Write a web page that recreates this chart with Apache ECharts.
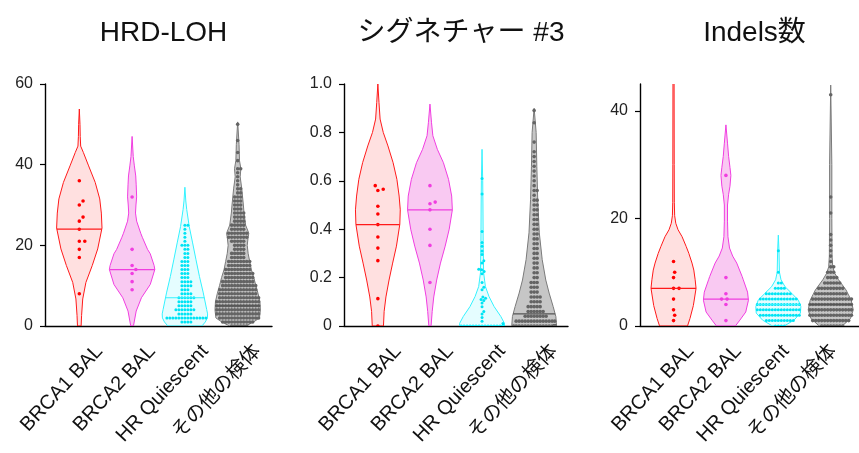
<!DOCTYPE html>
<html>
<head>
<meta charset="utf-8">
<script src="https://cdn.jsdelivr.net/npm/echarts@6/dist/echarts.min.js"></script>
<style>
  html, body { margin: 0; padding: 0; background: #fff; }
  #chart { width: 859px; height: 453px; }
</style>
</head>
<body>
<div id="chart"></div>
<script>
// ---- data ----------------------------------------------------------------
const categories = ['BRCA1 BAL', 'BRCA2 BAL', 'HR Quiescent', 'その他の検体'];
const panelTitles = ['HRD-LOH', 'シグネチャー #3', 'Indels数'];

const hrdTicks = [0, 20, 40, 60];
const sigTicks = [0, 0.2, 0.4, 0.6, 0.8, 1.0];
const indelTicks = [0, 20, 40];

// individual samples; [value, n] means n samples sharing that value
const hrdBrca1 = [36, 31, 30, 27, 26, 24, 21, 21, 19, 17, 8];
const hrdBrca2 = [32, 19, 15, 14, 13, 11, 9];
const hrdQuiescent = [[1, 4], [2, 14], [3, 5], [4, 7], [5, 5], [6, 5], [7, 6], [8, 4], [9, 3], [10, 4],
  [11, 4], [12, 3], [13, 3], [14, 3], [15, 3], [16, 3], [17, 2], [18, 2], [19, 2], [20, 3],
  [21, 1], [22, 1], [23, 1], [24, 1], [25, 2]];
const hrdOther = [[0, 6], [1, 11], [2, 14], [3, 15], [4, 15], [5, 15], [6, 15], [7, 14], [8, 13], [9, 13],
  [10, 12], [11, 11], [12, 10], [13, 10], [14, 9], [15, 8], [16, 8], [17, 5], [18, 5], [19, 4],
  [20, 4], [21, 5], [22, 7], [23, 7], [24, 5], [25, 5], [26, 4], [27, 4], [28, 4], [29, 3],
  [30, 3], [31, 3], [32, 3], [33, 2], [34, 2], 35, 36, 37, 38, [39, 2], 41, 43, 46, 50];
const hrdMedians = [24, 14, 7, 5];

const sigBrca1 = [0.58, 0.565, 0.56, 0.495, 0.463, 0.419, 0.368, 0.322, 0.27, 0.113, 0.0];
const sigBrca2 = [0.58, 0.512, 0.505, 0.48, 0.40, 0.333, 0.18];
const sigQuiescent = [[0, 40], 0.01, 0.02, 0.035, 0.05, 0.06, 0.08, 0.095, 0.105, 0.11, 0.115, 0.12,
  0.15, 0.16, 0.18, 0.216, 0.225, 0.232, 0.235, 0.26, 0.27, 0.295, 0.31, 0.33, 0.345, 0.39, 0.545, 0.61];
const sigOther = [[0, 30], [0.02, 14], [0.04, 8], [0.06, 6], [0.08, 5], [0.10, 4], [0.12, 4], [0.14, 3],
  [0.16, 3], [0.18, 3], [0.20, 2], [0.22, 2], [0.24, 2], [0.26, 2], [0.28, 2], [0.30, 2], [0.32, 2],
  [0.34, 2], [0.36, 2], [0.38, 2], [0.40, 2], [0.42, 2], [0.44, 2], [0.46, 2], [0.48, 2], [0.50, 2],
  [0.52, 2], 0.54, [0.56, 2], 0.58, 0.60, 0.62, 0.64, 0.66, 0.68, 0.70, 0.72, 0.76, 0.84, 0.89];
const sigMedians = [0.419, 0.48, 0, 0.05];

const indelBrca1 = [12, 10, 9, 7, 7, 5, 3, 2, 1];
const indelBrca2 = [28, 9, 6, 5, 5, 4, 1];
const indelQuiescent = [[0, 4], [1, 10], [2, 14], [3, 15], [4, 15], [5, 13], [6, 9], [7, 4], [8, 2], 10, 14];
const indelOther = [[0, 8], [1, 13], [2, 15], [3, 15], [4, 15], [5, 14], [6, 11], [7, 9], [8, 6], [9, 4],
  [10, 3], [11, 2], 12, 13, 14, 15, 16, 17, 21, 24, 43];
const indelMedians = [7, 5, 4, 4];

// violin outlines: [value, relative half-width (1 = widest)]
const hrdViolins = [
  [[0, 0.08], [2.6, 0.1], [6.7, 0.15], [10.8, 0.29], [15, 0.57], [19.1, 0.81], [24.3, 1], [28, 0.97],
   [31.5, 0.9], [35.6, 0.7], [39.7, 0.41], [43, 0.18], [44.6, 0.06], [47, 0.04], [50, 0.03], [53.8, 0]],
  [[0, 0.06], [3.7, 0.18], [7, 0.41], [10.3, 0.8], [14, 1], [15, 0.97], [17.9, 0.8], [19, 0.68],
   [22, 0.45], [23, 0.38], [26, 0.2], [28, 0.15], [30, 0.17], [32, 0.2], [35, 0.18], [37.2, 0.16],
   [39.7, 0.1], [42, 0.05], [47, 0]],
  [[0, 0.75], [1, 0.9], [2, 0.99], [3, 1.0], [4.1, 0.96], [8.2, 0.81], [12.3, 0.64], [16.4, 0.49],
   [20.6, 0.34], [24.7, 0.19], [28.9, 0.08], [31, 0.04], [34.4, 0]],
  [[0, 0.36], [1, 0.7], [2, 0.96], [4, 1], [6, 0.98], [8, 0.9], [10, 0.8], [12, 0.71], [14, 0.6],
   [16, 0.53], [18, 0.46], [20, 0.42], [22, 0.46], [23, 0.49], [25, 0.35], [28, 0.28], [30, 0.25],
   [34, 0.18], [37, 0.11], [39, 0.14], [41, 0.08], [45, 0.06], [50.6, 0]]
];
const sigViolins = [
  [[0, 0.25], [0.06, 0.28], [0.12, 0.36], [0.19, 0.5], [0.26, 0.66], [0.33, 0.83], [0.42, 0.98],
   [0.48, 1], [0.537, 0.95], [0.606, 0.85], [0.675, 0.68], [0.744, 0.45], [0.8, 0.24], [0.855, 0.1],
   [0.924, 0.05], [1.0, 0]],
  [[0, 0.05], [0.06, 0.1], [0.12, 0.17], [0.19, 0.3], [0.26, 0.47], [0.33, 0.68], [0.4, 0.86],
   [0.48, 1], [0.537, 0.97], [0.606, 0.83], [0.675, 0.6], [0.73, 0.33], [0.786, 0.13], [0.84, 0.07],
   [0.917, 0]],
  [[0, 1], [0.011, 1], [0.039, 0.84], [0.08, 0.54], [0.122, 0.31], [0.163, 0.15], [0.22, 0.07],
   [0.35, 0.05], [0.5, 0.04], [0.6, 0.03], [0.73, 0]],
  [[0, 1], [0.039, 0.97], [0.08, 0.85], [0.136, 0.67], [0.19, 0.52], [0.274, 0.36], [0.385, 0.23],
   [0.523, 0.16], [0.66, 0.12], [0.8, 0.09], [0.9, 0]]
];
const indelViolins = [
  [[0, 0.62], [1.4, 0.73], [3.8, 0.88], [7, 1], [8.6, 0.96], [10.4, 0.9], [11.7, 0.82], [13.5, 0.68],
   [14.8, 0.56], [16.6, 0.38], [17.9, 0.2], [19.1, 0.1], [20.5, 0.05], [23, 0.035], [30, 0.03], [47, 0.025]],
  [[0, 0.42], [1.1, 0.62], [2.6, 0.88], [4.8, 1], [6.3, 0.96], [8.6, 0.77], [9.2, 0.72], [11.7, 0.48],
   [13, 0.3], [14.5, 0.16], [16.6, 0.09], [19.5, 0.07], [22.5, 0.07], [24.5, 0.12], [26, 0.18], [28, 0.22],
   [29.5, 0.18], [31.5, 0.12], [34, 0.07], [37.4, 0]],
  [[0, 0.26], [1.1, 0.7], [2.4, 0.98], [3.6, 1], [4.8, 0.89], [6.1, 0.59], [7.3, 0.3], [8.6, 0.12],
   [10, 0.05], [14, 0.03], [16.9, 0]],
  [[0, 0.51], [1.4, 0.88], [3, 1], [4.8, 0.91], [6.7, 0.68], [8.6, 0.35], [9.8, 0.18], [11, 0.09],
   [13, 0.06], [20, 0.05], [30, 0.05], [44.8, 0]]
];

// ---- styling / layout ----------------------------------------------------
const FONT = "'Liberation Sans', Arial, 'Noto Sans CJK JP', sans-serif";
const HALF = 0.43;          // widest violin half-width, in category units
const LABEL_DX = 20;        // category labels sit a little right of their violins
const groupStyle = [
  { line: '#ff1a1a', fill: 'rgba(255,0,0,0.12)', dot: '#ff0000', median: '#ff1a1a', r: 1.8, gap: 5.5 },
  { line: '#f03ee0', fill: 'rgba(235,60,210,0.28)', dot: '#f03ee0', median: '#f03ee0', r: 1.8, gap: 5.5 },
  { line: '#33f2ff', fill: 'rgba(0,240,255,0.1)', dot: '#00e4f4', median: '#33f2ff', r: 1.5, gap: 3 },
  { line: '#7a7a7a', fill: 'rgba(128,128,128,0.45)', dot: '#646464', median: '#555555', r: 1.8, gap: 3 }
];

const panels = [
  { title: panelTitles[0], ticks: hrdTicks, max: 60, left: 45, width: 227, xMin: -0.65, xMax: 3.65,
    fmt: v => String(v), points: [hrdBrca1, hrdBrca2, hrdQuiescent, hrdOther],
    violins: hrdViolins, medians: hrdMedians },
  { title: panelTitles[1], ticks: sigTicks, max: 1.0, left: 344, width: 224, xMin: -0.65, xMax: 3.65,
    fmt: v => (v === 0 ? '0' : v.toFixed(1)), points: [sigBrca1, sigBrca2, sigQuiescent, sigOther],
    violins: sigViolins, medians: sigMedians },
  { title: panelTitles[2], ticks: indelTicks, max: 45, left: 640, width: 219, xMin: -0.64, xMax: 3.54,
    fmt: v => String(v), points: [indelBrca1, indelBrca2, indelQuiescent, indelOther],
    violins: indelViolins, medians: indelMedians }
];

// ---- helpers -------------------------------------------------------------
function expand(list) {
  const out = [];
  list.forEach(e => {
    if (Array.isArray(e)) { for (let k = 0; k < e[1]; k++) out.push(e[0]); }
    else out.push(e);
  });
  return out;
}

function widthAt(prof, v) {
  if (v <= prof[0][0]) return prof[0][1];
  for (let i = 1; i < prof.length; i++) {
    if (v <= prof[i][0]) {
      const [v0, w0] = prof[i - 1], [v1, w1] = prof[i];
      return w0 + (w1 - w0) * (v - v0) / (v1 - v0);
    }
  }
  return 0;
}

// simple beeswarm: each dot goes to the free slot closest to the centre line
function swarm(ys, gap, maxHalf) {
  const placed = [];
  ys.forEach(y => {
    const near = placed.filter(p => Math.abs(p.y - y) < gap);
    const cands = [0];
    near.forEach(p => {
      const dx = Math.sqrt(gap * gap - (p.y - y) * (p.y - y));
      cands.push(p.x + dx, p.x - dx);
    });
    cands.sort((a, b) => Math.abs(a) - Math.abs(b) || b - a);
    let x = cands.find(c => near.every(p => (p.x - c) * (p.x - c) + (p.y - y) * (p.y - y) >= gap * gap - 1e-6));
    if (x === undefined) x = 0;
    if (Math.abs(x) > maxHalf) x = Math.sign(x) * maxHalf;
    placed.push({ x, y });
  });
  return placed;
}

function makeRender(panel) {
  return function (params, api) {
    const gi = params.dataIndex;
    const st = groupStyle[gi];
    const prof = panel.violins[gi];
    const right = prof.map(([v, w]) => api.coord([gi + w * HALF, v]));
    const left = prof.slice().reverse().map(([v, w]) => api.coord([gi - w * HALF, v]));
    const children = [{
      type: 'polygon',
      shape: { points: right.concat(left) },
      style: { fill: st.fill, stroke: st.line, lineWidth: 1 }
    }];
    const cx = api.coord([gi, 0])[0];
    const maxHalf = api.coord([gi + HALF, 0])[0] - cx - st.r;
    const vals = expand(panel.points[gi]).sort((a, b) => a - b);
    const ys = vals.map(v => api.coord([gi, v])[1]);
    swarm(ys, st.gap, maxHalf).forEach(p => {
      children.push({ type: 'circle', shape: { cx: cx + p.x, cy: p.y, r: st.r }, style: { fill: st.dot } });
    });
    const m = panel.medians[gi];
    const mw = widthAt(prof, m) * HALF;
    const a = api.coord([gi - mw, m]), b = api.coord([gi + mw, m]);
    children.push({
      type: 'line',
      shape: { x1: a[0], y1: a[1], x2: b[0], y2: b[1] },
      style: { stroke: st.median, lineWidth: 1.2 }
    });
    return { type: 'group', children };
  };
}

// ---- option --------------------------------------------------------------
const TOP = 84, HEIGHT = 242;
const axisColor = '#000';
const option = { animation: false, title: [], grid: [], xAxis: [], yAxis: [], series: [] };

panels.forEach((p, k) => {
  option.title.push({
    text: p.title, left: p.left + p.width / 2, top: 14, textAlign: 'center',
    textStyle: { fontSize: 28, fontWeight: 'normal', color: '#111', fontFamily: FONT }
  });
  // plotting grid
  option.grid.push({ left: p.left, top: TOP, width: p.width, height: HEIGHT });
  // grid carrying the rotated category labels
  option.grid.push({ left: p.left + LABEL_DX, top: TOP, width: p.width, height: HEIGHT });

  option.xAxis.push({
    gridIndex: 2 * k, type: 'value', min: p.xMin, max: p.xMax,
    axisLine: { show: true, onZero: false, lineStyle: { color: axisColor, width: 1.4 } },
    axisTick: { show: false }, axisLabel: { show: false }, splitLine: { show: false }
  });
  option.yAxis.push({
    gridIndex: 2 * k, type: 'value', min: 0, max: p.max,
    axisLine: { show: true, onZero: false, lineStyle: { color: axisColor, width: 1.4 } },
    axisTick: { show: true, length: 5, customValues: p.ticks, lineStyle: { color: axisColor, width: 1.2 } },
    axisLabel: { customValues: p.ticks, formatter: p.fmt, fontSize: 16, color: '#222', margin: 12, fontFamily: FONT },
    splitLine: { show: false }
  });
  option.xAxis.push({
    gridIndex: 2 * k + 1, type: 'value', min: p.xMin, max: p.xMax,
    axisLine: { show: false, onZero: false }, axisTick: { show: false }, splitLine: { show: false },
    axisLabel: {
      customValues: [0, 1, 2, 3], formatter: v => categories[Math.round(v)],
      rotate: 47, margin: 22, fontSize: 20, color: '#111', fontFamily: FONT
    }
  });
  option.yAxis.push({ gridIndex: 2 * k + 1, type: 'value', min: 0, max: 1, show: false });

  option.series.push({
    type: 'custom', xAxisIndex: 2 * k, yAxisIndex: 2 * k, clip: true, silent: true,
    data: categories.map((c, i) => [i, 0]), encode: { x: 0, y: 1 },
    renderItem: makeRender(p)
  });
});

const chart = echarts.init(document.getElementById('chart'), null, { renderer: 'canvas' });
chart.setOption(option);
</script>
</body>
</html>
